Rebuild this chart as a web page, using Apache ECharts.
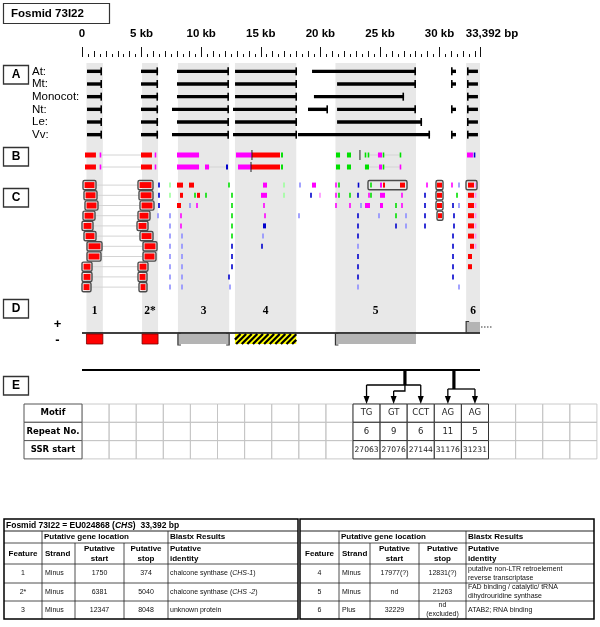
<!DOCTYPE html>
<html>
<head>
<meta charset="utf-8">
<script src="https://cdn.jsdelivr.net/npm/echarts@6.0.0/dist/echarts.min.js"></script>
<style>
html,body{margin:0;padding:0;background:#fff;}
#chart{width:600px;height:627px;}
</style>
</head>
<body>
<div id="chart"></div>
<script>
// ================= DATA =================
const genomeLength = 33392;
const majorTickStep = 5000;
const midTickStep = 1000;
const minorTickStep = 500;

// Section A: BLAST hit extents per species [start, end] (bp)
const speciesNames = ['At:', 'Mt:', 'Monocot:', 'Nt:', 'Le:', 'Vv:'];
const hitsAt = [[420,1680],[4950,6380],[7970,12330],[12840,18040],[19300,28020],[30960,31380],[32300,33220]];
const hitsMt = [[420,1680],[4950,6380],[7970,12330],[12840,18040],[21400,28020],[30960,31380],[32300,33220]];
const hitsMonocot = [[420,1680],[4950,6380],[7970,12330],[12840,18040],[19460,27020],[32300,33220]];
const hitsNt = [[420,1680],[4950,6380],[7550,12330],[12670,18040],[18960,20640],[21400,28020],[30960,31380],[32300,33220]];
const hitsLe = [[420,1680],[4950,6380],[7970,12330],[12840,18040],[21400,28530],[32300,33220]];
const hitsVv = [[420,1680],[4950,6380],[7550,12330],[12670,18040],[18120,29200],[30960,31380],[32300,33220]];

// Section B: two tracks of coloured blocks [start, end, class]
const bTrack1 = [[250,1170,'R'],[1510,1590,'M'],[4950,5870,'R'],[6120,6210,'M'],[7970,9820,'M'],[12920,14260,'M'],[14260,16610,'R'],[14260,14260,'K'],[16700,16860,'G'],[21310,21650,'G'],[22230,22570,'G'],[23320,23320,'K'],[23740,23830,'G'],[23990,24080,'G'],[24830,25170,'M'],[25250,25340,'G'],[26680,26760,'G'],[32300,32800,'M'],[32890,32980,'B']];
const bTrack2 = [[250,1170,'R'],[1510,1590,'M'],[4950,5870,'R'],[6120,6210,'M'],[7970,9820,'M'],[10320,10660,'M'],[12080,12250,'B'],[13090,14180,'M'],[14180,16610,'R'],[14180,14180,'K'],[16700,16860,'G'],[21310,21650,'G'],[22230,22570,'G'],[23740,24080,'G'],[24920,25170,'M'],[25250,25340,'G'],[26680,26760,'M']];
const bLinks1 = [[1590,4950],[24080,24830],[25340,26680]];
const bLinks2 = [[1590,4950],[10660,12080],[24080,24920],[25340,26680]];

// Section C: CHS boxes per row [start1, end1, start2, end2]
const cChsBoxes = [[84,1175,4698,5957],[168,1259,4782,5957],[252,1342,4866,6041],[84,1091,4698,5705],[0,923,4615,5537],[168,1175,4866,5957],[420,1678,5118,6293],[420,1594,5118,6208],[0,839,4698,5537],[0,839,4698,5454],[0,755,4782,5454]];
// Section C: other framed hits [row, start, end]
const cFrames = [[0,23995,27268],[0,29701,30288],[1,29701,30288],[2,29701,30288],[3,29785,30288],[0,32218,33141]];
// Section C: marks per row [start, end, class]
const cRow1 = [[6460,6460,'B'],[7383,7383,'g'],[7971,8474,'R'],[8977,9397,'R'],[12333,12333,'G'],[15186,15522,'M'],[16948,16948,'g'],[18290,18290,'b'],[19297,19633,'M'],[21311,21311,'M'],[21562,21562,'G'],[23156,23240,'B'],[24247,24247,'G'],[25002,25170,'M'],[25254,25422,'R'],[26680,27100,'R'],[28946,28946,'M'],[29785,30204,'R'],[31043,31043,'M'],[31630,31630,'b'],[32385,32889,'R'],[32973,33060,'P']];
const cRow2 = [[6460,6460,'B'],[7383,7383,'g'],[8222,8474,'R'],[9481,9481,'G'],[9649,9900,'R'],[10404,10404,'G'],[12585,12585,'G'],[15018,15522,'M'],[16948,16948,'g'],[19213,19213,'B'],[19968,19968,'P'],[21311,21311,'M'],[21562,21562,'G'],[22485,22485,'G'],[23156,23156,'B'],[24079,24079,'M'],[24247,24247,'G'],[25002,25422,'M'],[26848,26848,'M'],[28778,28778,'B'],[29785,30204,'R'],[31463,31463,'G'],[32385,32889,'R'],[32973,33060,'P']];
const cRow3 = [[6460,6460,'B'],[7971,8306,'R'],[9061,9061,'b'],[9649,9649,'M'],[12585,12585,'G'],[15270,15270,'M'],[21311,21311,'M'],[22485,22485,'M'],[23408,23408,'b'],[23744,24163,'M'],[25002,25254,'M'],[26345,26345,'G'],[26848,26848,'M'],[28778,28778,'B'],[29785,30204,'R'],[31127,31127,'B'],[31630,31630,'b'],[32385,32889,'R'],[32973,33060,'P']];
const cRow4 = [[6376,6376,'b'],[7383,7383,'b'],[8306,8306,'M'],[12585,12585,'G'],[15354,15354,'M'],[18206,18206,'b'],[23156,23156,'B'],[24918,24918,'b'],[26345,26345,'G'],[27184,27184,'b'],[28778,28778,'B'],[29869,30204,'R'],[31211,31211,'B'],[32385,32889,'R'],[32973,33060,'P']];
const cRow5 = [[7383,7383,'b'],[8306,8306,'M'],[12585,12585,'G'],[15186,15438,'B'],[23156,23156,'B'],[26345,26345,'B'],[27184,27184,'b'],[28778,28778,'B'],[31211,31211,'B'],[32385,32889,'R'],[32973,33060,'P']];
const cRow6 = [[7383,7383,'b'],[8390,8390,'b'],[12585,12585,'G'],[15186,15186,'b'],[23156,23156,'B'],[31127,31127,'B'],[32385,32889,'R'],[32973,33060,'P']];
const cRow7 = [[7383,7383,'b'],[8390,8390,'b'],[12585,12585,'B'],[15102,15102,'B'],[23156,23156,'b'],[31127,31127,'B'],[32553,32889,'R'],[32973,33060,'P']];
const cRow8 = [[7383,7383,'b'],[8390,8390,'b'],[12585,12585,'B'],[23156,23156,'B'],[31127,31127,'B'],[32385,32720,'R']];
const cRow9 = [[7383,7383,'b'],[8390,8390,'b'],[12585,12585,'B'],[23156,23156,'B'],[31127,31127,'B'],[32385,32720,'R']];
const cRow10 = [[7383,7383,'b'],[8390,8390,'b'],[12333,12333,'B'],[23156,23156,'B'],[31127,31127,'B']];
const cRow11 = [[7383,7383,'b'],[8390,8390,'b'],[12417,12417,'b'],[23156,23156,'b'],[31630,31630,'b']];

// Section D: predicted features
const featureLabels = ['1', '2*', '3', '4', '5', '6'];
const featureFrom = [374, 5040, 8048, 12831, 21263, 32229];
const featureTo = [1750, 6381, 12347, 17977, 28020, 33392];
const featureStrand = [-1, -1, -1, -1, -1, 1];

// Section E: SSRs
const ssrMotif = ['TG', 'GT', 'CCT', 'AG', 'AG'];
const ssrRepeat = [6, 9, 6, 11, 5];
const ssrStart = [27063, 27076, 27144, 31176, 31231];
const eRowLabels = ['Motif', 'Repeat No.', 'SSR start'];

// Feature table
const tableTitle = ['Fosmid 73I22 = EU024868 (', 'CHS', ')  33,392 bp'];
const geneStrand = ['Minus', 'Minus', 'Minus', 'Minus', 'Minus', 'Plus'];
const geneStart = ['1750', '6381', '12347', '17977(?)', 'nd', '32229'];
const geneStop = ['374', '5040', '8048', '12831(?)', '21263', 'nd\n(excluded)'];
const geneIdentity = [
  ['chalcone synthase (', 'CHS-1', ')'],
  ['chalcone synthase (', 'CHS -2', ')'],
  ['unknown protein'],
  ['putative non-LTR retroelement\nreverse transcriptase'],
  ['FAD binding / catalytic/ tRNA\ndihydrouridine synthase'],
  ['ATAB2; RNA binding']
];

// ================= STYLE / LAYOUT =================
const SANS = "'Liberation Sans', Arial, Helvetica, sans-serif";
const SERIF = "'Liberation Serif', 'Times New Roman', serif";
const VERD = "'DejaVu Sans', Verdana, sans-serif";
const markColors = {R:'#ff0000', M:'#ff00ff', G:'#00e000', g:'#9cff9c', B:'#0000cc', b:'#8c8cff', P:'#ff8cff', K:'#222222'};
const PL = 82, PW = 398;
const eTableLeft = 24, eLabelW = 58, eColW = 27.1, eCols = 19, eSsrCol = 10, eTableTop = 404, eRowH = 18.3;

function txt(x, y, text, font, align, valign, extra) {
  return {
    type: 'text', x: x, y: y, silent: true,
    style: Object.assign({text: text, font: font, fill: '#000', align: align, textAlign: align,
      verticalAlign: valign, textVerticalAlign: valign}, extra || {})
  };
}

// ---- flatten data ----
const aData = [];
[hitsAt, hitsMt, hitsMonocot, hitsNt, hitsLe, hitsVv].forEach((hits, r) => hits.forEach(h => aData.push([h[0], h[1], r])));

const bData = [], bCodes = [];
[bTrack1, bTrack2].forEach((t, r) => t.forEach(m => { bData.push([m[0], m[1], r]); bCodes.push(m[2]); }));
const bLinkData = [];
[bLinks1, bLinks2].forEach((t, r) => t.forEach(m => bLinkData.push([m[0], m[1], r])));

const cData = [], cCodes = [];
[cRow1, cRow2, cRow3, cRow4, cRow5, cRow6, cRow7, cRow8, cRow9, cRow10, cRow11].forEach((t, r) =>
  t.forEach(m => { cData.push([m[0], m[1], r]); cCodes.push(m[2]); }));
const cBoxData = [], cLinkData = [];
cChsBoxes.forEach((b, r) => { cBoxData.push([b[0], b[1], r, 1]); cBoxData.push([b[2], b[3], r, 1]); cLinkData.push([b[1], b[2], r]); });
cFrames.forEach(f => cBoxData.push([f[1], f[2], f[0], 0]));

const featData = featureLabels.map((l, i) => [featureFrom[i], featureTo[i], featureStrand[i]]);

const ssrGroups = [];
ssrStart.forEach((s, i) => {
  const g = ssrGroups[ssrGroups.length - 1];
  if (g && s - ssrStart[g[g.length - 1]] < 1000) g.push(i); else ssrGroups.push([i]);
});
const eGroupData = ssrGroups.map(g => [g.reduce((a, i) => a + ssrStart[i], 0) / g.length, 0]);

// ---- renderers ----
function renderShade(params, api) {
  const a = api.coord([api.value(0), 2]), b = api.coord([api.value(1), 1]);
  return {type: 'rect', shape: {x: a[0], y: a[1], width: b[0] - a[0], height: b[1] - a[1]}, style: {fill: '#e8e8e8'}};
}
function renderHit(params, api) {
  const s = api.value(0), e = api.value(1), r = api.value(2);
  const p0 = api.coord([s, r]), p1 = api.coord([e, r]);
  const cx = s > 30000 ? p0[0] + 0.8 : p1[0] - 0.8;
  return {type: 'group', children: [
    {type: 'line', shape: {x1: p0[0], y1: p0[1], x2: p1[0], y2: p1[1]}, style: {stroke: '#000', lineWidth: 3.4}},
    {type: 'line', shape: {x1: cx, y1: p0[1] - 4, x2: cx, y2: p0[1] + 4}, style: {stroke: '#000', lineWidth: 1.6}}
  ]};
}
function markRenderer(codes, h) {
  return function (params, api) {
    const s = api.value(0), e = api.value(1), r = api.value(2);
    const p0 = api.coord([s, r]), p1 = api.coord([e, r]);
    const code = codes[params.dataIndex];
    if (code === 'K') return {type: 'line', shape: {x1: p0[0], y1: p0[1] - 5, x2: p0[0], y2: p0[1] + 5}, style: {stroke: markColors.K, lineWidth: 1}};
    let x = p0[0], w = p1[0] - p0[0];
    if (w < 1.6) { x -= (1.6 - w) / 2; w = 1.6; }
    return {type: 'rect', shape: {x: x, y: p0[1] - h / 2, width: w, height: h}, style: {fill: markColors[code]}};
  };
}
function renderLink(params, api) {
  const p0 = api.coord([api.value(0), api.value(2)]), p1 = api.coord([api.value(1), api.value(2)]);
  return {type: 'line', shape: {x1: p0[0], y1: p0[1], x2: p1[0], y2: p1[1]}, style: {stroke: '#d4d4d4', lineWidth: 1}};
}
function renderBox(params, api) {
  const p0 = api.coord([api.value(0), api.value(2)]), p1 = api.coord([api.value(1), api.value(2)]);
  const filled = api.value(3) === 1;
  const ch = [];
  if (filled) ch.push({type: 'rect', shape: {x: p0[0] + 1.5, y: p0[1] - 3, width: p1[0] - p0[0] - 3, height: 6}, style: {fill: '#ff0000'}});
  ch.push({type: 'rect', shape: {x: p0[0], y: p0[1] - 4.6, width: p1[0] - p0[0], height: 9.2, r: 1.5},
    style: {fill: 'none', stroke: '#4a4a4a', lineWidth: 1.4}});
  return {type: 'group', children: ch};
}
function renderFeature(params, api) {
  const i = params.dataIndex;
  const s = api.value(0), e = api.value(1), st = api.value(2);
  const a = api.coord([s, 0]), b = api.coord([e, st]);
  const x = a[0], w = b[0] - a[0];
  const y = st < 0 ? a[1] + 1 : b[1];
  const h = Math.abs(b[1] - a[1]) - 1;
  const lab = featureLabels[i];
  const ch = [];
  if (lab === '1' || lab === '2*') {
    ch.push({type: 'rect', shape: {x: x, y: y, width: w, height: h}, style: {fill: '#ff0000', stroke: '#7a0000', lineWidth: 0.8}});
  } else if (lab === '4') {
    ch.push({type: 'rect', shape: {x: x, y: y, width: w, height: h}, style: {fill: '#ffff00'}});
    for (let k = x - h; k < x + w; k += 5.6) {
      const t0 = Math.max(0, x - k), t1 = Math.min(h, x + w - k);
      if (t1 <= t0) continue;
      ch.push({type: 'line', shape: {x1: k + t0, y1: y + h - t0, x2: k + t1, y2: y + h - t1}, style: {stroke: '#000', lineWidth: 2.3}});
    }
  } else {
    ch.push({type: 'rect', shape: {x: x, y: y, width: w, height: h}, style: {fill: '#b4b4b4'}});
    const br = (bx, dir) => ({type: 'polyline', shape: {points: [[bx + 3 * dir, y - 0.5], [bx, y - 0.5], [bx, y + h + 1], [bx + 3 * dir, y + h + 1]]},
      style: {fill: 'none', stroke: '#333', lineWidth: 1.2}});
    ch.push(br(x, 1));
    if (lab === '3') ch.push(br(x + w, -1));
    if (lab === '6') ch.push({type: 'line', shape: {x1: x + w + 1, y1: y + h / 2, x2: x + w + 12, y2: y + h / 2},
      style: {stroke: '#333', lineWidth: 1.2, lineDash: [1.5, 1.5]}});
  }
  const lp = api.coord([(s + e) / 2, 2]);
  ch.push({type: 'text', x: lp[0], y: lp[1], style: {text: lab, font: 'bold 11.5px ' + SERIF, fill: '#000',
    align: 'center', textAlign: 'center', verticalAlign: 'middle', textVerticalAlign: 'middle'}});
  return {type: 'group', children: ch};
}
function renderBaseline(params, api) {
  const p0 = api.coord([api.value(0), 0]), p1 = api.coord([api.value(1), 0]);
  return {type: 'line', shape: {x1: p0[0], y1: p0[1], x2: p1[0], y2: p1[1]}, style: {stroke: '#000', lineWidth: api.value(2)}};
}
function eColCenter(k) { return eTableLeft + eLabelW + (eSsrCol + k + 0.5) * eColW; }
function renderSsr(params, api) {
  const g = ssrGroups[params.dataIndex];
  const p = api.coord([api.value(0), 0]);
  const sx = p[0], y0 = p[1];
  const tip = eTableTop;
  const ch = [];
  const thin = {stroke: '#000', lineWidth: 1.3, fill: 'none'};
  const arrow = (cx, fromY) => {
    ch.push({type: 'line', shape: {x1: cx, y1: fromY, x2: cx, y2: tip - 6}, style: thin});
    ch.push({type: 'polygon', shape: {points: [[cx - 3, tip - 8], [cx + 3, tip - 8], [cx, tip]]}, style: {fill: '#000'}});
  };
  const cxs = g.map(eColCenter);
  if (g.length >= 3) {
    const yA = y0 + 15, yB = y0 + 21;
    ch.push({type: 'line', shape: {x1: sx, y1: y0, x2: sx, y2: yA}, style: {stroke: '#000', lineWidth: 3.2}});
    ch.push({type: 'line', shape: {x1: cxs[0], y1: yA, x2: cxs[cxs.length - 1], y2: yA}, style: thin});
    arrow(cxs[0], yA); arrow(cxs[cxs.length - 1], yA);
    for (let k = 1; k < cxs.length - 1; k++) {
      ch.push({type: 'polyline', shape: {points: [[sx, yA], [sx, yB], [cxs[k], yB]]}, style: thin});
      arrow(cxs[k], yB);
    }
  } else {
    const yA = y0 + 19;
    ch.push({type: 'line', shape: {x1: sx, y1: y0, x2: sx, y2: yA}, style: {stroke: '#000', lineWidth: 3.2}});
    if (cxs.length > 1) ch.push({type: 'line', shape: {x1: cxs[0], y1: yA, x2: cxs[cxs.length - 1], y2: yA}, style: thin});
    cxs.forEach(cx => arrow(cx, yA));
  }
  return {type: 'group', children: ch};
}

// ---- axes ----
function hiddenX(gi) { return {type: 'value', gridIndex: gi, min: 0, max: genomeLength, show: false, axisLine: {onZero: false}}; }
function topAxis(step, len, labels) {
  return {
    type: 'value', gridIndex: 0, position: 'top', offset: 6, min: 0, max: genomeLength, interval: step,
    axisLine: {show: false, onZero: false}, splitLine: {show: false},
    axisTick: {show: true, length: len, lineStyle: {color: '#111', width: 1}},
    axisLabel: labels ? {
      show: true, margin: 17, showMinLabel: true, showMaxLabel: true, color: '#000',
      fontFamily: SANS, fontWeight: 'bold', fontSize: 11.5,
      formatter: v => v === 0 ? '0' : (v === genomeLength ? '{e|' + genomeLength.toLocaleString('en-US') + ' bp}' : (v / 1000) + ' kb'),
      rich: {e: {padding: [0, 0, 0, 24], fontFamily: SANS, fontWeight: 'bold', fontSize: 11.5, color: '#000'}}
    } : {show: false}
  };
}

// ---- graphics (boxes, tables) ----
const gfx = [];
gfx.push({type: 'rect', shape: {x: 3.5, y: 3.5, width: 106, height: 20}, style: {fill: '#fff', stroke: '#333', lineWidth: 1.2}, silent: true});
gfx.push(txt(11, 14, 'Fosmid 73I22', 'bold 11.5px ' + SANS, 'left', 'middle'));
[['A', 65], ['B', 147], ['C', 188], ['D', 299], ['E', 376]].forEach(s => {
  gfx.push({type: 'rect', shape: {x: 3.5, y: s[1] + 0.5, width: 25, height: 18.5}, style: {fill: '#fff', stroke: '#333', lineWidth: 1.3}, silent: true});
  gfx.push(txt(16, s[1] + 10, s[0], 'bold 12px ' + SANS, 'center', 'middle'));
});
gfx.push(txt(57.5, 324, '+', 'bold 13px ' + SANS, 'center', 'middle'));
gfx.push(txt(57.5, 340, '-', 'bold 13px ' + SANS, 'center', 'middle'));

// E table
for (let c = 0; c < eCols; c++) {
  for (let r = 0; r < 3; r++) {
    gfx.push({type: 'rect', silent: true, shape: {x: eTableLeft + eLabelW + c * eColW, y: eTableTop + r * eRowH, width: eColW, height: eRowH},
      style: {fill: 'none', stroke: '#c4c4c4', lineWidth: 0.9}});
  }
}
eRowLabels.forEach((l, r) => {
  gfx.push({type: 'rect', silent: true, shape: {x: eTableLeft, y: eTableTop + r * eRowH, width: eLabelW, height: eRowH},
    style: {fill: '#fff', stroke: '#555', lineWidth: 1}});
  gfx.push(txt(eTableLeft + eLabelW / 2, eTableTop + (r + 0.5) * eRowH, l, 'bold 8.5px ' + VERD, 'center', 'middle'));
});
ssrMotif.forEach((m, k) => {
  const vals = [m, String(ssrRepeat[k]), String(ssrStart[k])];
  vals.forEach((v, r) => {
    const x = eTableLeft + eLabelW + (eSsrCol + k) * eColW;
    gfx.push({type: 'rect', silent: true, shape: {x: x, y: eTableTop + r * eRowH, width: eColW, height: eRowH},
      style: {fill: '#fff', stroke: '#333', lineWidth: 1}});
    gfx.push(txt(x + eColW / 2, eTableTop + (r + 0.5) * eRowH, v, (r === 2 ? '7.6px ' : '8.5px ') + VERD, 'center', 'middle', {fill: '#222'}));
  });
});

// Feature table
const tRows = [519, 531, 543, 564, 583, 601, 619];
const tColsL = [4, 42, 75, 124, 168, 298];
const tColsR = [300, 339, 370, 419, 466, 594];
const BOLD = 'bold 8px ' + SANS, REG = '7px ' + SANS;
function identityText(parts) {
  if (parts.length === 1) return {text: parts[0]};
  return {text: '{a|' + parts[0] + '}{i|' + parts[1] + '}{a|' + parts[2] + '}',
    rich: {a: {font: REG, fill: '#111'}, i: {font: 'italic ' + REG, fill: '#111'}}};
}
function drawHalf(cols, first, withTitle) {
  const L = cols[0], R = cols[5];
  const line = (x1, y1, x2, y2, lw) => gfx.push({type: 'line', silent: true, shape: {x1: x1, y1: y1, x2: x2, y2: y2}, style: {stroke: '#222', lineWidth: lw || 0.8}});
  for (let r = 1; r < tRows.length - 1; r++) line(L, tRows[r], R, tRows[r], r === 1 ? 1.2 : 0.8);
  line(cols[1], tRows[1], cols[1], tRows[6]);
  line(cols[2], tRows[2], cols[2], tRows[6]);
  line(cols[3], tRows[2], cols[3], tRows[6]);
  line(cols[4], tRows[1], cols[4], tRows[6]);
  gfx.push({type: 'rect', silent: true, shape: {x: L, y: tRows[0], width: R - L, height: tRows[6] - tRows[0]}, style: {fill: 'none', stroke: '#000', lineWidth: 1.5}});
  if (withTitle) {
    gfx.push({type: 'text', silent: true, x: L + 2, y: (tRows[0] + tRows[1]) / 2 + 0.5, style: {
      text: '{b|' + tableTitle[0] + '}{bi|' + tableTitle[1] + '}{b|' + tableTitle[2] + '}',
      rich: {b: {font: 'bold 8.5px ' + SANS, fill: '#000'}, bi: {font: 'italic bold 8.5px ' + SANS, fill: '#000'}},
      align: 'left', textAlign: 'left', verticalAlign: 'middle', textVerticalAlign: 'middle'}});
  }
  const yMid1 = (tRows[1] + tRows[2]) / 2, yMid2 = (tRows[2] + tRows[3]) / 2;
  gfx.push(txt(cols[1] + 2, yMid1, 'Putative gene location', BOLD, 'left', 'middle'));
  gfx.push(txt(cols[4] + 2, yMid1, 'Blastx Results', BOLD, 'left', 'middle'));
  gfx.push(txt((cols[0] + cols[1]) / 2, yMid2, 'Feature', BOLD, 'center', 'middle'));
  gfx.push(txt(cols[1] + 3, yMid2, 'Strand', BOLD, 'left', 'middle'));
  gfx.push(txt((cols[2] + cols[3]) / 2, yMid2, 'Putative\nstart', BOLD, 'center', 'middle', {lineHeight: 10}));
  gfx.push(txt((cols[3] + cols[4]) / 2, yMid2, 'Putative\nstop', BOLD, 'center', 'middle', {lineHeight: 10}));
  gfx.push(txt(cols[4] + 2, yMid2, 'Putative\nidentity', BOLD, 'left', 'middle', {lineHeight: 10}));
  for (let k = 0; k < 3; k++) {
    const i = first + k;
    const ym = (tRows[3 + k] + tRows[4 + k]) / 2;
    const ex = {fill: '#111', lineHeight: 9};
    gfx.push(txt((cols[0] + cols[1]) / 2, ym, featureLabels[i], REG, 'center', 'middle', ex));
    gfx.push(txt(cols[1] + 3, ym, geneStrand[i], REG, 'left', 'middle', ex));
    gfx.push(txt((cols[2] + cols[3]) / 2, ym, geneStart[i], REG, 'center', 'middle', ex));
    gfx.push(txt((cols[3] + cols[4]) / 2, ym, geneStop[i], REG, 'center', 'middle', ex));
    gfx.push(txt(cols[4] + 2, ym, '', REG, 'left', 'middle', Object.assign({}, ex, identityText(geneIdentity[i]))));
  }
}
drawHalf(tColsL, 0, true);
drawHalf(tColsR, 3, false);

// ================= OPTION =================
const grids = [
  {left: PL, width: PW, top: 63, height: 270},
  {left: PL, width: PW, top: 65, height: 76},
  {left: PL, width: PW, top: 149, height: 24},
  {left: PL, width: PW, top: 180, height: 112.2},
  {left: PL, width: PW, top: 300, height: 44},
  {left: PL, width: PW, top: 370, height: 30}
];
const option = {
  animation: false,
  backgroundColor: '#ffffff',
  grid: grids,
  xAxis: [
    topAxis(majorTickStep, 10, true),
    topAxis(midTickStep, 6, false),
    topAxis(minorTickStep, 3, false),
    hiddenX(1), hiddenX(2), hiddenX(3), hiddenX(4), hiddenX(5)
  ],
  yAxis: [
    {type: 'value', gridIndex: 0, min: 1, max: 2, show: false, axisLine: {onZero: false}},
    {type: 'category', gridIndex: 1, data: speciesNames, inverse: true,
      axisLine: {show: false}, axisTick: {show: false}, splitLine: {show: false},
      axisLabel: {interval: 0, align: 'left', margin: 50, fontFamily: SANS, fontSize: 11.5, color: '#000'}},
    {type: 'category', gridIndex: 2, data: ['1', '2'], inverse: true, show: false},
    {type: 'category', gridIndex: 3, data: cChsBoxes.map((b, i) => String(i + 1)), inverse: true, show: false},
    {type: 'value', gridIndex: 4, min: -1, max: 3, show: false, axisLine: {onZero: false}},
    {type: 'value', gridIndex: 5, min: 0, max: 1, inverse: true, show: false, axisLine: {onZero: false}}
  ],
  series: [
    {type: 'custom', xAxisIndex: 0, yAxisIndex: 0, z: 0, silent: true, clip: false, renderItem: renderShade,
      data: featData.map(f => [f[0], f[1]])},
    {type: 'custom', xAxisIndex: 3, yAxisIndex: 1, z: 2, silent: true, clip: false, renderItem: renderHit, data: aData},
    {type: 'custom', xAxisIndex: 4, yAxisIndex: 2, z: 2, silent: true, clip: false, renderItem: renderLink, data: bLinkData},
    {type: 'custom', xAxisIndex: 4, yAxisIndex: 2, z: 3, silent: true, clip: false, renderItem: markRenderer(bCodes, 5), data: bData},
    {type: 'custom', xAxisIndex: 5, yAxisIndex: 3, z: 2, silent: true, clip: false, renderItem: renderLink, data: cLinkData},
    {type: 'custom', xAxisIndex: 5, yAxisIndex: 3, z: 3, silent: true, clip: false, renderItem: markRenderer(cCodes, 5), data: cData},
    {type: 'custom', xAxisIndex: 5, yAxisIndex: 3, z: 4, silent: true, clip: false, renderItem: renderBox, data: cBoxData},
    {type: 'custom', xAxisIndex: 6, yAxisIndex: 4, z: 3, silent: true, clip: false, renderItem: renderBaseline, data: [[0, genomeLength, 1.6]]},
    {type: 'custom', xAxisIndex: 6, yAxisIndex: 4, z: 4, silent: true, clip: false, renderItem: renderFeature, data: featData},
    {type: 'custom', xAxisIndex: 7, yAxisIndex: 5, z: 3, silent: true, clip: false, renderItem: renderBaseline, data: [[0, genomeLength, 2]]},
    {type: 'custom', xAxisIndex: 7, yAxisIndex: 5, z: 4, silent: true, clip: false, renderItem: renderSsr, data: eGroupData}
  ],
  graphic: {elements: gfx}
};
const chart = echarts.init(document.getElementById('chart'), null, {renderer: 'canvas'});
chart.setOption(option);
</script>
</body>
</html>
